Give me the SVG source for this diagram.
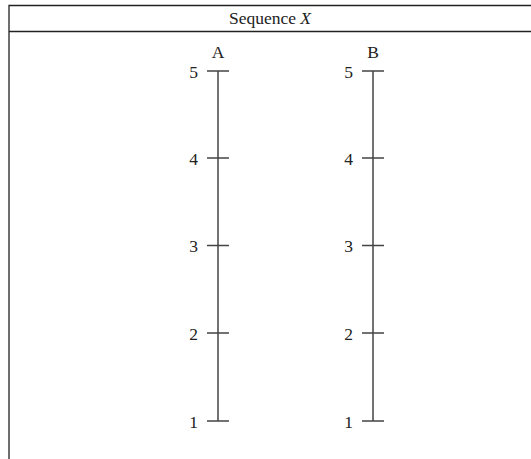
<svg xmlns="http://www.w3.org/2000/svg" width="531" height="459" viewBox="0 0 531 459">
<style>
.frame{stroke:#222;stroke-width:1.3;fill:none}
.ax{stroke:#444;stroke-width:1.5;fill:none}
text{font-family:"Liberation Serif",serif;font-size:17.5px;fill:#222}
.lab{text-anchor:end}
.hd{text-anchor:middle}
</style>
<rect width="531" height="459" fill="#fff"/>
<g id="frame">
<path class="frame" d="M9,459 V5.5 H531 M9,31.5 H531"/>
<text class="hd" x="270" y="24">Sequence <tspan font-style="italic">X</tspan></text>
</g>
<g id="connectors">
<path class="ax" d="M218,71 V421 M373,71 V421"/>
</g>
<g id="axisA">
<text class="hd" x="218" y="58">A</text>
<path class="ax" d="M207,71H229 M207,158H229 M207,245.5H229 M207,333H229 M207,421H229"/>
<text class="lab" x="198" y="77.5">5</text>
<text class="lab" x="198" y="164.5">4</text>
<text class="lab" x="198" y="252">3</text>
<text class="lab" x="198" y="339.5">2</text>
<text class="lab" x="198" y="427.5">1</text>
</g>
<g id="axisB">
<text class="hd" x="373" y="58">B</text>
<path class="ax" d="M362,71H384 M362,158H384 M362,245.5H384 M362,333H384 M362,421H384"/>
<text class="lab" x="353" y="77.5">5</text>
<text class="lab" x="353" y="164.5">4</text>
<text class="lab" x="353" y="252">3</text>
<text class="lab" x="353" y="339.5">2</text>
<text class="lab" x="353" y="427.5">1</text>
</g>
</svg>
